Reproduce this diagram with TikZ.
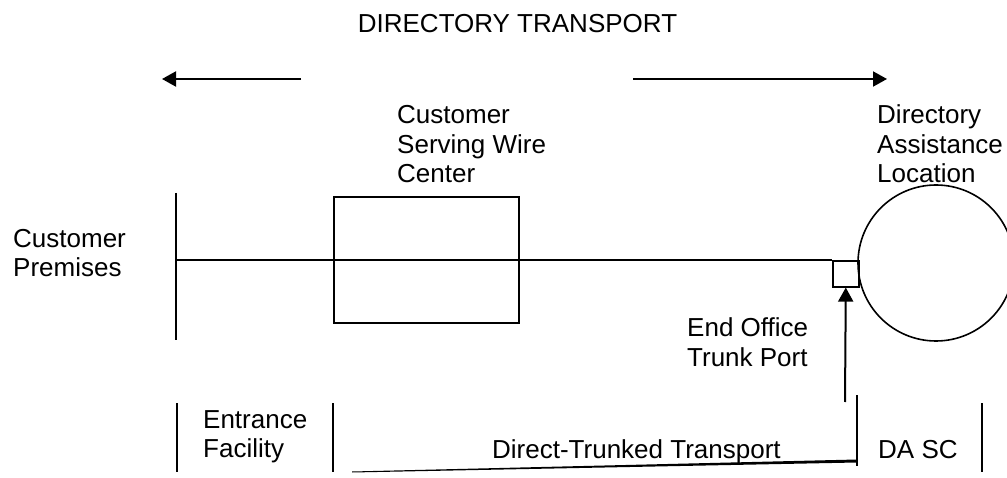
\documentclass[tikz,border=0pt]{standalone}
\usepackage{fontspec}
\setmainfont{Liberation Sans}
\usetikzlibrary{arrows.meta}
\newcommand{\mlines}[1]{\begin{tabular}[t]{@{}l@{}}#1\end{tabular}}
\begin{document}
\begin{tikzpicture}[x=1pt,y=-1pt,
  every node/.style={inner sep=0pt, font=\fontsize{26}{29.5}\selectfont},
  txt/.style={anchor=base west},
  ln/.style={line width=1.6pt},
  arr/.style={line width=2pt,-{Triangle[length=14pt,width=15pt]}}]
\useasboundingbox (0,0) rectangle (1007,478);
\begin{scope}
\clip (0,0) rectangle (1007,478);
% title and direction arrows
\node[anchor=base] (title) at (517.5,33) {DIRECTORY TRANSPORT};
\coordinate (la0) at (301,79); \coordinate (la1) at (162,79);
\draw[arr] (la0) -- (la1);
\coordinate (ra0) at (633,79); \coordinate (ra1) at (887,79);
\draw[arr] (ra0) -- (ra1);
% labels
\node[txt] (csw) at (397,124) {\mlines{Customer\\Serving Wire\\Center}};
\node[txt] (dal) at (877,124) {\mlines{Directory\\Assistance\\Location}};
\node[txt] (cp) at (13,247.5) {\mlines{Customer\\Premises}};
\node[txt] (eotp) at (687,337) {\mlines{End Office\\Trunk Port}};
% shapes
\node[draw, ln, minimum width=185pt, minimum height=126pt, anchor=north west] (wc) at (333,196) {};
\node[draw, ln, circle, minimum size=156pt] (da) at (936,263) {};
\node[draw, ln, minimum size=26pt, anchor=north west] (port) at (832,260) {};
% customer premises line
\coordinate (lv0) at (176,193); \coordinate (lv1) at (176,340);
\draw[ln] (lv0) -- (lv1);
\coordinate (hl0) at (176,260);
\draw[ln] (hl0) -- (port.north west);
% arrow to trunk port
\coordinate (pa) at (845,402);
\draw[arr] (pa) -- (port.south);
% bottom segments
\coordinate (b1a) at (177,403); \coordinate (b1b) at (177,472);
\coordinate (b2a) at (333,403); \coordinate (b2b) at (333,472);
\coordinate (b3a) at (857,395); \coordinate (b3b) at (857,466);
\coordinate (b4a) at (982,403); \coordinate (b4b) at (982,472);
\draw[ln] (b1a) -- (b1b);
\draw[ln] (b2a) -- (b2b);
\draw[ln] (b3a) -- (b3b);
\draw[ln] (b4a) -- (b4b);
\node[txt] (ef) at (203,428) {\mlines{Entrance\\Facility}};
\node[txt] (dtt) at (492,458) {Direct-Trunked Transport};
\node[txt] (dasc) at (878,458) {DA SC};
\fill (352,471.5) -- (857,459.5) -- (857,462.5) -- (352,472.5) -- cycle;
\end{scope}
\end{tikzpicture}
\end{document}
